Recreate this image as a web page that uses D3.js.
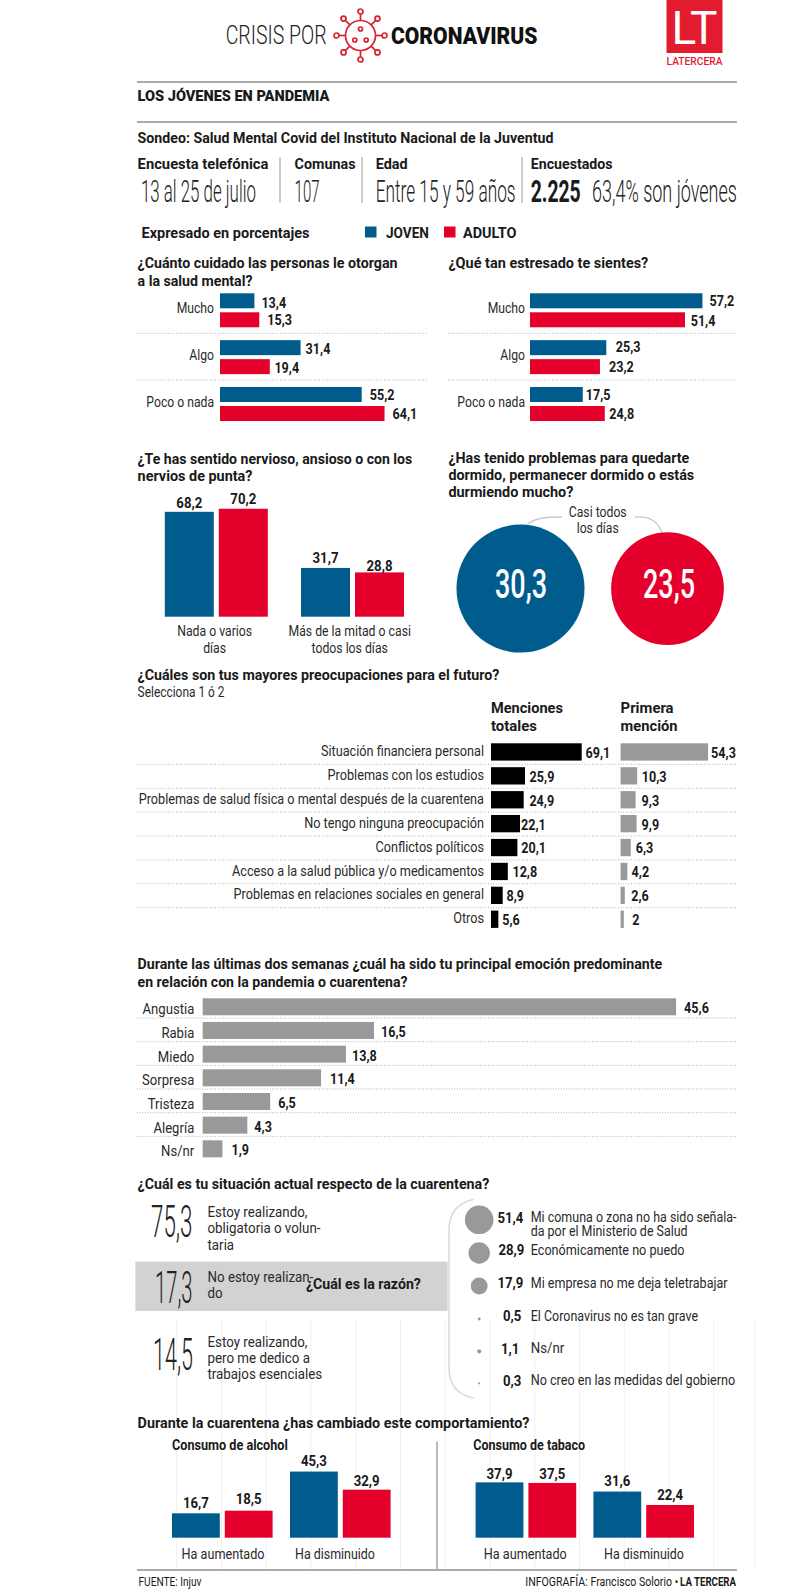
<!DOCTYPE html>
<html><head><meta charset="utf-8">
<script src="https://cdn.jsdelivr.net/npm/d3@7/dist/d3.min.js"></script>
<style>html,body{margin:0;padding:0;background:#fff}svg{display:block}text{font-family:Roboto,sans-serif;fill:#1a1a1a}</style>
</head><body><svg id="c" width="800" height="1590"></svg>
<script>
const BLUE="#005c8d",RED="#e4002b",GRAY="#999999";
const series=["JOVEN","ADULTO"];
// cuidado
const careCats=["Mucho","Algo","Poco o nada"];
const careJoven=[13.4,31.4,55.2], careAdulto=[15.3,19.4,64.1];
// estrés
const stressJoven=[57.2,25.3,17.5], stressAdulto=[51.4,23.2,24.8];
// nervios
const nervCats=[["Nada o varios","días"],["Más de la mitad o casi","todos los días"]];
const nervJoven=[68.2,31.7], nervAdulto=[70.2,28.8];
// sueño
const sleepValues=[30.3,23.5];
// preocupaciones
const worryCats=["Situación financiera personal","Problemas con los estudios","Problemas de salud física o mental después de la cuarentena","No tengo ninguna preocupación","Conflictos políticos","Acceso a la salud pública y/o medicamentos","Problemas en relaciones sociales en general","Otros"];
const worryTotal=[69.1,25.9,24.9,22.1,20.1,12.8,8.9,5.6];
const worryFirst=[54.3,10.3,9.3,9.9,6.3,4.2,2.6,2];
// emociones
const emoCats=["Angustia","Rabia","Miedo","Sorpresa","Tristeza","Alegría","Ns/nr"];
const emoValues=[45.6,16.5,13.8,11.4,6.5,4.3,1.9];
// razones
const reasonLabels=[["Mi comuna o zona no ha sido señala-","da por el Ministerio de Salud"],["Económicamente no puedo"],["Mi empresa no me deja teletrabajar"],["El Coronavirus no es tan grave"],["Ns/nr"],["No creo en las medidas del gobierno"]];
const reasonValues=[51.4,28.9,17.9,0.5,1.1,0.3];
// comportamiento
const behCats=["Ha aumentado","Ha disminuido"];
const alcoholJoven=[16.7,45.3], alcoholAdulto=[18.5,32.9];
const tabacoJoven=[37.9,31.6], tabacoAdulto=[37.5,22.4];

const svg=d3.select("#c");
const fmt=v=>String(v).replace(".",",");
function T(x,y,s,o={}){
  const t=svg.append("text").attr("font-size",o.fs||14).attr("font-weight",o.fw||400)
    .attr("text-anchor",o.a||"start").style("fill",o.fill||"#1a1a1a").text(s);
  let sx=o.sx||1;
  if(o.w){sx=o.w/t.node().getComputedTextLength();}
  t.attr("transform",`translate(${x},${y}) scale(${sx},1)`);
  return t;
}
const title=(x,y,s,w)=>T(x,y,s,{fs:15.5,fw:700,w});
const body=(x,y,s,o={})=>T(x,y,s,Object.assign({fs:14.5,fw:400,sx:.86,fill:"#2a2a2a"},o));
const val=(x,y,v,o={})=>T(x,y,fmt(v),Object.assign({fs:15,fw:700,sx:.84},o));
function hline(y,x1,x2,dotted){
  const l=svg.append("line").attr("x1",x1).attr("x2",x2).attr("y1",y).attr("y2",y);
  if(dotted) l.attr("stroke","#b5b5b5").attr("stroke-width",1).attr("stroke-dasharray","1 1.6");
  else l.attr("stroke","#a9a9a9").attr("stroke-width",2);
}
function vline(x,y1,y2,c="#999",w=1){svg.append("line").attr("x1",x).attr("x2",x).attr("y1",y1).attr("y2",y2).attr("stroke",c).attr("stroke-width",w);}

// faint grid artefacts
d3.range(13).forEach(i=>vline(176.7+44.75*i,1320,1570,"#f0f0f0",1));
vline(755,1320,1570,"#f0f0f0",1);

// header
T(225.7,43.5,"CRISIS POR",{fs:25,fw:300,w:101,fill:"#222"});
T(391,43.5,"CORONAVIRUS",{fs:24,fw:900,w:146.5,fill:"#111"});
const vir=svg.append("g").attr("transform","translate(360.5,35.5)").attr("stroke","#d8232f").attr("fill","none").attr("stroke-width",1.7);
vir.append("circle").attr("r",15);
d3.range(8).forEach(i=>{const a=i*Math.PI/4,c=Math.cos(a),s=Math.sin(a);
  vir.append("line").attr("x1",15*c).attr("y1",15*s).attr("x2",21.5*c).attr("y2",21.5*s);
  vir.append("circle").attr("cx",24*c).attr("cy",24*s).attr("r",2.5);});
[[0,-6.5],[-5.7,4.5],[5.7,4.5]].forEach(p=>vir.append("circle").attr("cx",p[0]).attr("cy",p[1]).attr("r",2));
svg.append("rect").attr("x",666.5).attr("y",0).attr("width",56).attr("height",53).attr("fill","#e31b2e");
T(694.5,44,"LT",{fs:46,fw:400,a:"middle",fill:"#fff",w:46});
T(694.5,65,"LATERCERA",{fs:10.5,fw:500,a:"middle",fill:"#e31b2e",w:56});

hline(82,137,737);
T(137.6,101,"LOS JÓVENES EN PANDEMIA",{fs:15,fw:900,w:192});
hline(122,137,737);
T(137.6,142.5,"Sondeo: Salud Mental Covid del Instituto Nacional de la Juventud",{fs:15.5,fw:700,w:416});
T(137.6,169,"Encuesta telefónica",{fs:15.5,fw:700,w:131});
T(294.6,169,"Comunas",{fs:15.5,fw:700,w:61});
T(375.7,169,"Edad",{fs:15.5,fw:700,w:32});
T(530.7,169,"Encuestados",{fs:15.5,fw:700,w:82});
T(141,201.7,"13 al 25 de julio",{fs:31,fw:300,w:115,fill:"#222"});
T(294.6,201.7,"107",{fs:31,fw:300,w:25,fill:"#222"});
T(375.7,201.7,"Entre 15 y 59 años",{fs:31,fw:300,w:140,fill:"#222"});
T(530.7,201.7,"2.225",{fs:31,fw:700,w:50});
T(592,201.7,"63,4% son jóvenes",{fs:31,fw:300,w:145,fill:"#222"});
[280,362,522].forEach(x=>vline(x,157,203,"#999",1));
T(141.5,238,"Expresado en porcentajes",{fs:15.5,fw:700,w:168});
const lg=d3.scaleOrdinal().domain(series).range([BLUE,RED]);
const lgX=d3.scaleOrdinal().domain(series).range([365,444]);
const lgW=d3.scaleOrdinal().domain(series).range([43,53.5]);
series.forEach(s=>{
  svg.append("rect").attr("x",lgX(s)).attr("y",226.5).attr("width",11.5).attr("height",11).attr("fill",lg(s));
  T(lgX(s)+(s=="JOVEN"?21:19),238,s,{fs:15,fw:700,w:lgW(s)});
});

// horizontal grouped
function hGrouped(cats,a,b,x0,k,labelX,dxA,dxB,dyA,dyB,sepX1,sepX2){
  const x=d3.scaleLinear().domain([0,1]).range([x0,x0+k]);
  const y=d3.scaleBand().domain(cats).range([293.3,293.3+3*46.85]);
  const yy=d3.scaleBand().domain(series).range([0,34]).paddingInner(.21);
  const bh=yy.bandwidth();
  cats.forEach((c,i)=>{
    [[series[0],a,dxA,dyA],[series[1],b,dxB,dyB]].forEach(([s,arr,dx,dy])=>{
      const Y=y(c)+yy(s);
      svg.append("rect").attr("x",x0).attr("y",Y).attr("width",x(arr[i])-x0).attr("height",bh).attr("fill",lg(s));
      val(x(arr[i])+dx[i],Y+bh+dy[i],arr[i]);
    });
    body(labelX,y(c)+19.5,c,{a:"end",sx:.84});
    if(i<cats.length-1) hline(y(c)+40,sepX1,sepX2,true);
  });
}
title(137.6,268,"¿Cuánto cuidado las personas le otorgan",260);
title(137.6,285.7,"a la salud mental?",115);
hGrouped(careCats,careJoven,careAdulto,220,2.567,214,[7,5,8],[8,4.6,8],[-.6,-1,-2],[-2.6,-1.3,-1.7],137,426.6);
title(448.4,268,"¿Qué tan estresado te sientes?",200);
hGrouped(careCats,stressJoven,stressAdulto,530,3.015,525,[7,9.5,3],[5.7,9,4.6],[-2.3,-3.3,-2],[-1.3,-2.3,-2],448,737);

// vertical grouped
function vGrouped(groupX,barW,a,b,base,k,lab){
  const y=d3.scaleLinear().domain([0,1]).range([base,base-k]);
  const xx=d3.scaleBand().domain(series).range([0,barW*2+5]).paddingInner(5/(barW+5));
  groupX.forEach((gx,i)=>{
    [[series[0],a],[series[1],b]].forEach(([s,arr],j)=>{
      const X=gx+xx(s),v=arr[i];
      svg.append("rect").attr("x",X).attr("y",y(v)).attr("width",xx.bandwidth()).attr("height",base-y(v)).attr("fill",lg(s));
      val(X+xx.bandwidth()/2,y(v)-lab[i][j],v,{a:"middle",sx:.88});
    });
  });
}
title(137.6,464,"¿Te has sentido nervioso, ansioso o con los",275);
title(137.6,481.3,"nervios de punta?",115);
vGrouped([164.8,301],49,nervJoven,nervAdulto,616.7,1.538,[[4,4.5],[5,1.3]]);
[[214.6,nervCats[0]],[349.7,nervCats[1]]].forEach(([x,l])=>{
  body(x,636,l[0],{a:"middle",sx:.845});
  body(x,652.7,l[1],{a:"middle",sx:.845});
});
[["¿Has tenido problemas para quedarte",462.7,241],["dormido, permanecer dormido o estás",480,246],["durmiendo mucho?",497.3,125]].forEach(([s,y,w])=>title(448.4,y,s,w));
const rS=d3.scaleSqrt().domain([0,1]).range([0,11.63]);
[[520.5,BLUE,521],[667.5,RED,669]].forEach(([cx,col,tx],i)=>{
  svg.append("circle").attr("cx",cx).attr("cy",588.6).attr("r",rS(sleepValues[i])).attr("fill",col);
  T(tx,598,fmt(sleepValues[i]),{fs:41,fw:500,a:"middle",fill:"#fff",w:52});
});
svg.append("path").attr("d","M528,524 C535,518 545,517 562,517").attr("fill","none").attr("stroke","#c9c9c9").attr("stroke-width",1.4);
svg.append("path").attr("d","M635,517 C650,516 657,521 662,532").attr("fill","none").attr("stroke","#c9c9c9").attr("stroke-width",1.4);
body(597.7,516.7,"Casi todos",{a:"middle",w:58});
body(597.7,533.3,"los días",{a:"middle",w:42});

// preocupaciones
title(137.6,680,"¿Cuáles son tus mayores preocupaciones para el futuro?",362);
body(137.6,696.7,"Selecciona 1 ó 2",{w:87});
[[491,"Menciones",72,713.3],[491,"totales",46,730.7],[620.6,"Primera",53,713.3],[620.6,"mención",57,730.7]].forEach(([x,s,w,y])=>title(x,y,s,w));
const wy=d3.scaleBand().domain(worryCats).range([743.3,743.3+8*23.9]);
const wxT=d3.scaleLinear().domain([0,69.1]).range([491,491+90.7]);
const wxF=d3.scaleLinear().domain([0,54.3]).range([620.6,620.6+87.5]);
const wdxT=[3.8,4.6,5.7,1,3.8,4.6,3.8,3.8], wdxF=[3,4.6,6,5,5,4.2,6.5,8.4];
worryCats.forEach((c,i)=>{
  const Y=wy(c);
  svg.append("rect").attr("x",491).attr("y",Y).attr("width",wxT(worryTotal[i])-491).attr("height",17.3).attr("fill","#000");
  svg.append("rect").attr("x",620.6).attr("y",Y).attr("width",wxF(worryFirst[i])-620.6).attr("height",17.3).attr("fill",GRAY);
  val(wxT(worryTotal[i])+wdxT[i],Y+14.5,worryTotal[i]);
  val(wxF(worryFirst[i])+wdxF[i],Y+14.5,worryFirst[i]);
  body(484,Y+12.7,c,{a:"end",sx:.875});
  if(i<7) hline(Y+21,137,737,true);
});

// emociones
title(137.6,969.3,"Durante las últimas dos semanas ¿cuál ha sido tu principal emoción predominante",525);
title(137.6,987.3,"en relación con la pandemia o cuarentena?",270);
const ey=d3.scaleBand().domain(emoCats).range([998.3,998.3+7*23.67]);
const ex=d3.scaleLinear().domain([0,45.6]).range([202.7,202.7+473.4]);
const edx=[8,7,6,9,8,7,9];
emoCats.forEach((c,i)=>{
  const Y=ey(c);
  svg.append("rect").attr("x",202.7).attr("y",Y).attr("width",ex(emoValues[i])-202.7).attr("height",17).attr("fill",GRAY);
  val(ex(emoValues[i])+edx[i],Y+15,emoValues[i]);
  body(194.3,Y+16,c,{a:"end",sx:.905});
  if(i<6) hline(Y+19.7,137,737,true);
});

// situación
title(137.6,1189.3,"¿Cuál es tu situación actual respecto de la cuarentena?",352);
svg.append("rect").attr("x",135.4).attr("y",1261.7).attr("width",312.2).attr("height",49.3).attr("fill","#d2d2d2");
svg.append("path").attr("d","M474,1199.3 C458,1203 449,1212 449,1230 L449,1368 C449,1386 458,1395 474,1398.3").attr("fill","none").attr("stroke","#dcdcdc").attr("stroke-width",1.6);
[["75,3",1237.3,151,41.5],["17,3",1302.7,155,37.5],["14,5",1370,153,40]].forEach(([s,y,x,w])=>T(x,y,s,{fs:44,fw:300,w,fill:"#222"}));
[["Estoy realizando,",1217.3],["obligatoria o volun-",1233.3],["taria",1250],["No estoy realizan-",1281.7],["do",1298.3],["Estoy realizando,",1346.7],["pero me dedico a",1363],["trabajos esenciales",1379]].forEach(([s,y])=>body(207.5,y,s,{sx:.92}));
title(306,1289.3,"¿Cuál es la razón?",115);
const rR=d3.scaleSqrt().domain([0,51.4]).range([0,14.3]);
const reasonY=[1219.8,1253,1286,1319,1351.3,1383.3];
const reasonDx=[0,1,0,-2,-4,-2];
const reasonW=[[206,157],[154],[197],[167.6],[33.7],[204.6]];
reasonValues.forEach((v,i)=>{
  const Y=reasonY[i];
  svg.append("circle").attr("cx",479.2).attr("cy",Y).attr("r",rR(v)).attr("fill",GRAY);
  val(523.4+reasonDx[i],Y+(i==0?3:2.3),v,{a:"end",sx:.88});
  reasonLabels[i].forEach((l,j)=>body(530.7,Y+(i==0?2:1.5)+j*14.5,l,{w:reasonW[i][j]}));
});

// comportamiento
title(137.6,1428.3,"Durante la cuarentena ¿has cambiado este comportamiento?",392);
T(172,1450,"Consumo de alcohol",{fs:14,fw:700,w:116});
T(473.3,1450,"Consumo de tabaco",{fs:14,fw:700,w:112});
vline(437,1441.7,1570,"#a9a9a9",1.6);
vGrouped([172,290],47.8,alcoholJoven,alcoholAdulto,1537.7,1.46,[[5.6,6.4],[5.3,3.7]]);
vGrouped([475.6,593.4],47.8,tabacoJoven,tabacoAdulto,1537.7,1.46,[[3.6,4],[6,5]]);
[[223,0],[335,1],[525.3,0],[644,1]].forEach(([x,i])=>body(x,1559,behCats[i],{a:"middle",w:i?80:83}));
hline(1570,137,737);
T(138.5,1586,"FUENTE: Injuv",{fs:12.5,fw:400,w:63});
T(525.3,1586,"INFOGRAFÍA: Francisco Solorio •",{fs:12.5,fw:400,w:153});
T(736,1586,"LA TERCERA",{fs:12.5,fw:700,a:"end",w:56});
</script></body></html>
